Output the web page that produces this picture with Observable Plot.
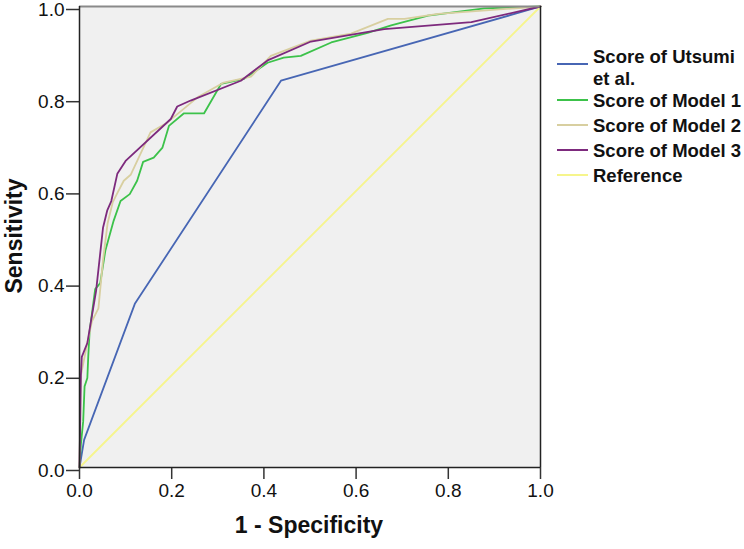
<!DOCTYPE html>
<html>
<head>
<meta charset="utf-8">
<script src="https://cdn.jsdelivr.net/npm/d3@7"></script>
<script src="https://cdn.jsdelivr.net/npm/@observablehq/plot@0.6"></script>
<style>
  html, body { margin: 0; padding: 0; background: #fff; }
  #wrap { position: relative; width: 744px; height: 549px; font-family: "Liberation Sans", Arial, sans-serif; overflow: hidden; }
  .ltext { position: absolute; white-space: nowrap; font-weight: bold; font-size: 18.5px; line-height: 16px; color: #111; }
  .lsw { position: absolute; width: 31px; height: 2px; }
</style>
</head>
<body>
<div id="wrap"></div>
<script>
// ROC curve data (1 - Specificity, Sensitivity)
const seriesNames = ["Score of Utsumi et al.", "Score of Model 1", "Score of Model 2", "Score of Model 3", "Reference"];
const seriesColors = ["#4766b4", "#3cc24a", "#d8cfa0", "#7d2a7d", "#f6f58c"];

const utsumiX = [0, 0.01, 0.12, 0.437, 1];
const utsumiY = [0, 0.06, 0.355, 0.839, 1];

const model1X = [0, 0.003, 0.008, 0.011, 0.017, 0.019, 0.022, 0.034, 0.045, 0.056, 0.074, 0.089, 0.109, 0.125, 0.138, 0.161, 0.18, 0.194, 0.226, 0.27, 0.307, 0.357, 0.408, 0.443, 0.48, 0.546, 0.625, 0.676, 0.756, 0.878, 1];
const model1Y = [0, 0.05, 0.1, 0.176, 0.194, 0.241, 0.296, 0.387, 0.4, 0.47, 0.535, 0.578, 0.593, 0.622, 0.663, 0.672, 0.694, 0.741, 0.768, 0.768, 0.832, 0.843, 0.878, 0.889, 0.893, 0.922, 0.943, 0.959, 0.98, 0.996, 1];

const model2X = [0, 0.003, 0.017, 0.027, 0.041, 0.051, 0.061, 0.072, 0.082, 0.096, 0.111, 0.154, 0.19, 0.256, 0.313, 0.372, 0.415, 0.502, 0.589, 0.669, 0.705, 0.778, 1];
const model2Y = [0, 0.2, 0.27, 0.317, 0.345, 0.45, 0.53, 0.575, 0.595, 0.622, 0.635, 0.727, 0.748, 0.803, 0.835, 0.848, 0.893, 0.926, 0.941, 0.973, 0.973, 0.984, 1];

const model3X = [0, 0.003, 0.005, 0.017, 0.036, 0.051, 0.06, 0.069, 0.082, 0.1, 0.198, 0.212, 0.241, 0.35, 0.408, 0.502, 0.661, 0.85, 1];
const model3Y = [0, 0.2, 0.24, 0.27, 0.383, 0.52, 0.557, 0.578, 0.637, 0.665, 0.756, 0.783, 0.796, 0.839, 0.883, 0.924, 0.951, 0.966, 1];

const refX = [0, 1];
const refY = [0, 1];

const tickValues = [0, 0.2, 0.4, 0.6, 0.8, 1.0];

const allX = [utsumiX, model1X, model2X, model3X, refX];
const allY = [utsumiY, model1Y, model2Y, model3Y, refY];
const rows = [];
// draw order: reference first, then Utsumi, Model1, Model2, Model3
[4, 0, 1, 2, 3].forEach(i => {
  allX[i].forEach((x, j) => rows.push({series: seriesNames[i], x, y: allY[i][j]}));
});

const fmt = d3.format(".1f");
const chart = Plot.plot({
  width: 744,
  height: 549,
  marginLeft: 79,
  marginRight: 204,
  marginTop: 6,
  marginBottom: 82,
  style: { fontFamily: "Liberation Sans, Arial, sans-serif", color: "#111", background: "transparent" },
  x: { domain: [0, 1], label: null },
  y: { domain: [0, 1], label: null },
  color: { domain: seriesNames, range: seriesColors },
  marks: [
    Plot.frame({ fill: "#f0f0f0", stroke: null }),
    Plot.line(rows, { x: "x", y: "y", z: "series", stroke: "series", strokeWidth: 1.8 }),
    Plot.ruleY([1], { stroke: "#8a8a8a", strokeWidth: 2 }),
    Plot.ruleX([1], { stroke: "#222", strokeWidth: 1.5 }),
    Plot.axisX({ ticks: tickValues, tickFormat: fmt, tickSize: 12, tickPadding: 4, stroke: "#333", strokeWidth: 1.5, fontSize: 19, label: null }),
    Plot.axisY({ ticks: tickValues, tickFormat: fmt, tickSize: 13, tickPadding: 2, stroke: "#333", strokeWidth: 1.5, fontSize: 19, dy: 3, label: null }),
    Plot.ruleX([0], { stroke: "#222", strokeWidth: 1.5 }),
    Plot.ruleY([0], { stroke: "#222", strokeWidth: 1.5 })
  ]
});

const wrap = document.getElementById("wrap");
chart.style.position = "absolute";
chart.style.left = "0px";
chart.style.top = "0px";
wrap.appendChild(chart);

// axis titles
const yTitle = document.createElement("div");
yTitle.textContent = "Sensitivity";
Object.assign(yTitle.style, {
  position: "absolute", left: "14px", top: "236px", transform: "translate(-50%, -50%) rotate(-90deg)",
  fontWeight: "bold", fontSize: "23px", color: "#111", whiteSpace: "nowrap"
});
wrap.appendChild(yTitle);

const xTitle = document.createElement("div");
xTitle.textContent = "1 - Specificity";
Object.assign(xTitle.style, {
  position: "absolute", left: "309px", top: "525px", transform: "translate(-50%, -50%)",
  fontWeight: "bold", fontSize: "23px", color: "#111", whiteSpace: "nowrap"
});
wrap.appendChild(xTitle);

// legend: text lines (baselines) and swatch positions
const legendLines = [["Score of Utsumi", "et al."], ["Score of Model 1"], ["Score of Model 2"], ["Score of Model 3"], ["Reference"]];
const legendBaselines = [63, 107, 132, 157, 182];
const legendSwatchY = [64, 100, 125, 150, 175];
legendLines.forEach((lines, i) => {
  const sw = document.createElement("div");
  sw.className = "lsw";
  sw.style.left = "557px";
  sw.style.top = (legendSwatchY[i] - 1) + "px";
  sw.style.background = seriesColors[i];
  wrap.appendChild(sw);
  lines.forEach((t, k) => {
    const tx = document.createElement("div");
    tx.className = "ltext";
    tx.textContent = t;
    tx.style.left = "593px";
    tx.style.top = (legendBaselines[i] + k * 22 - 14) + "px";
    wrap.appendChild(tx);
  });
});
</script>
</body>
</html>
